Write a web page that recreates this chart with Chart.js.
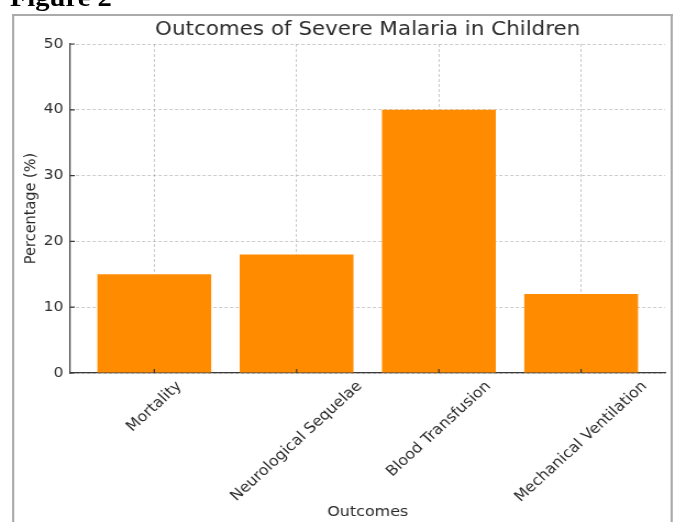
<!DOCTYPE html>
<html>
<head>
<meta charset="utf-8">
<script src="https://cdn.jsdelivr.net/npm/chart.js@4.4.1/dist/chart.umd.min.js"></script>
<style>
  html, body { margin: 0; padding: 0; background: #fff; overflow: hidden; width: 675px; height: 522px; }
  /* the figure was exported slightly wider than tall, so the whole panel is stretched horizontally */
  #fig { position: absolute; left: 0; top: 0; width: 614px; height: 522px; transform: scaleX(1.0993); transform-origin: 0 0; }
  #caption { position: absolute; left: 9px; top: -15px; font: bold 26px "Liberation Serif", "Times New Roman", serif; line-height: 26px; color: #000; white-space: nowrap; }
  #frame { position: absolute; left: 11px; top: 14px; width: 597px; height: 540px; border: 2px solid #aaa; border-bottom: none; }
  canvas { position: absolute; left: 0; top: 0; }
</style>
</head>
<body>
<div id="fig">
  <div id="caption">Figure 2</div>
  <div id="frame"></div>
  <canvas id="chart" width="614" height="522"></canvas>
</div>
<script>
// Outcome categories and the share of children (%) with each outcome
const categories = ['Mortality', 'Neurological Sequelae', 'Blood Transfusion', 'Mechanical Ventilation'];
const percentages = [15, 18, 40, 12];
const yTicks = [0, 10, 20, 30, 40, 50];

const FONT = '"DejaVu Sans", sans-serif';
const TEXT = '#2b2b2b';
const AXIS = '#3a3a3a';
const GRID = 'rgba(170,170,170,0.6)';
const BAR = '#FF8C00';

// Inward tick marks and centred 45-degree category labels
const outcomeLabels = {
  id: 'outcomeLabels',
  afterDraw(chart) {
    const { ctx, chartArea, scales: { x, y } } = chart;
    ctx.save();
    ctx.strokeStyle = AXIS;
    ctx.lineWidth = 1.2;
    ctx.beginPath();
    categories.forEach((_, i) => {
      const px = x.getPixelForValue(i);
      ctx.moveTo(px, chartArea.bottom);
      ctx.lineTo(px, chartArea.bottom - 4);
    });
    yTicks.forEach(v => {
      const py = y.getPixelForValue(v);
      ctx.moveTo(chartArea.left, py);
      ctx.lineTo(chartArea.left + 4, py);
    });
    ctx.stroke();

    const size = 14.5;
    ctx.font = size + 'px ' + FONT;
    ctx.fillStyle = TEXT;
    ctx.textAlign = 'center';
    ctx.textBaseline = 'middle';
    categories.forEach((label, i) => {
      const w = ctx.measureText(label).width;
      const h = size * 1.164;
      const half = (w + h) * Math.SQRT1_2 / 2;
      ctx.save();
      ctx.translate(x.getPixelForValue(i), chartArea.bottom + 5 + half);
      ctx.rotate(-Math.PI / 4);
      ctx.fillText(label, 0, 0);
      ctx.restore();
    });
    ctx.restore();
  }
};

new Chart(document.getElementById('chart'), {
  type: 'bar',
  data: {
    datasets: [{
      data: percentages.map((v, i) => ({ x: i, y: v })),
      backgroundColor: BAR,
      borderWidth: 0,
      barPercentage: 1,
      categoryPercentage: 0.8
    }]
  },
  options: {
    responsive: false,
    animation: false,
    devicePixelRatio: 1,
    layout: { padding: { top: 18, right: 9, left: 0, bottom: 0 } },
    plugins: {
      legend: { display: false },
      tooltip: { enabled: false },
      title: {
        display: true,
        text: 'Outcomes of Severe Malaria in Children',
        fullSize: false,
        color: TEXT,
        font: { family: FONT, size: 19.5, weight: 'normal' },
        padding: { top: 0, bottom: 2.6 }
      }
    },
    scales: {
      x: {
        type: 'linear',
        min: -0.59,
        max: 3.59,
        offset: false,
        z: 1,
        afterBuildTicks: s => { s.ticks = categories.map((_, i) => ({ value: i })); },
        afterFit: s => { s.height = 149; },
        grid: { color: GRID, lineWidth: 1, drawTicks: false, offset: false },
        border: { display: true, color: AXIS, width: 1.2, dash: [3, 2] },
        ticks: { display: false },
        title: {
          display: true,
          text: 'Outcomes',
          color: TEXT,
          font: { family: FONT, size: 14.5 },
          padding: { top: 0, bottom: 1 }
        }
      },
      y: {
        min: 0,
        max: 50,
        z: 1,
        afterBuildTicks: s => { s.ticks = yTicks.map(v => ({ value: v })); },
        afterFit: s => { s.width = 64; },
        grid: { color: GRID, lineWidth: 1, drawTicks: false },
        border: { display: true, color: AXIS, width: 1.2, dash: [3, 2] },
        ticks: { padding: 6.4, color: TEXT, font: { family: FONT, size: 14 } },
        title: {
          display: true,
          text: 'Percentage (%)',
          color: TEXT,
          font: { family: FONT, size: 14.5 },
          padding: { top: 20, bottom: 0 }
        }
      }
    }
  },
  plugins: [outcomeLabels]
});
</script>
</body>
</html>
